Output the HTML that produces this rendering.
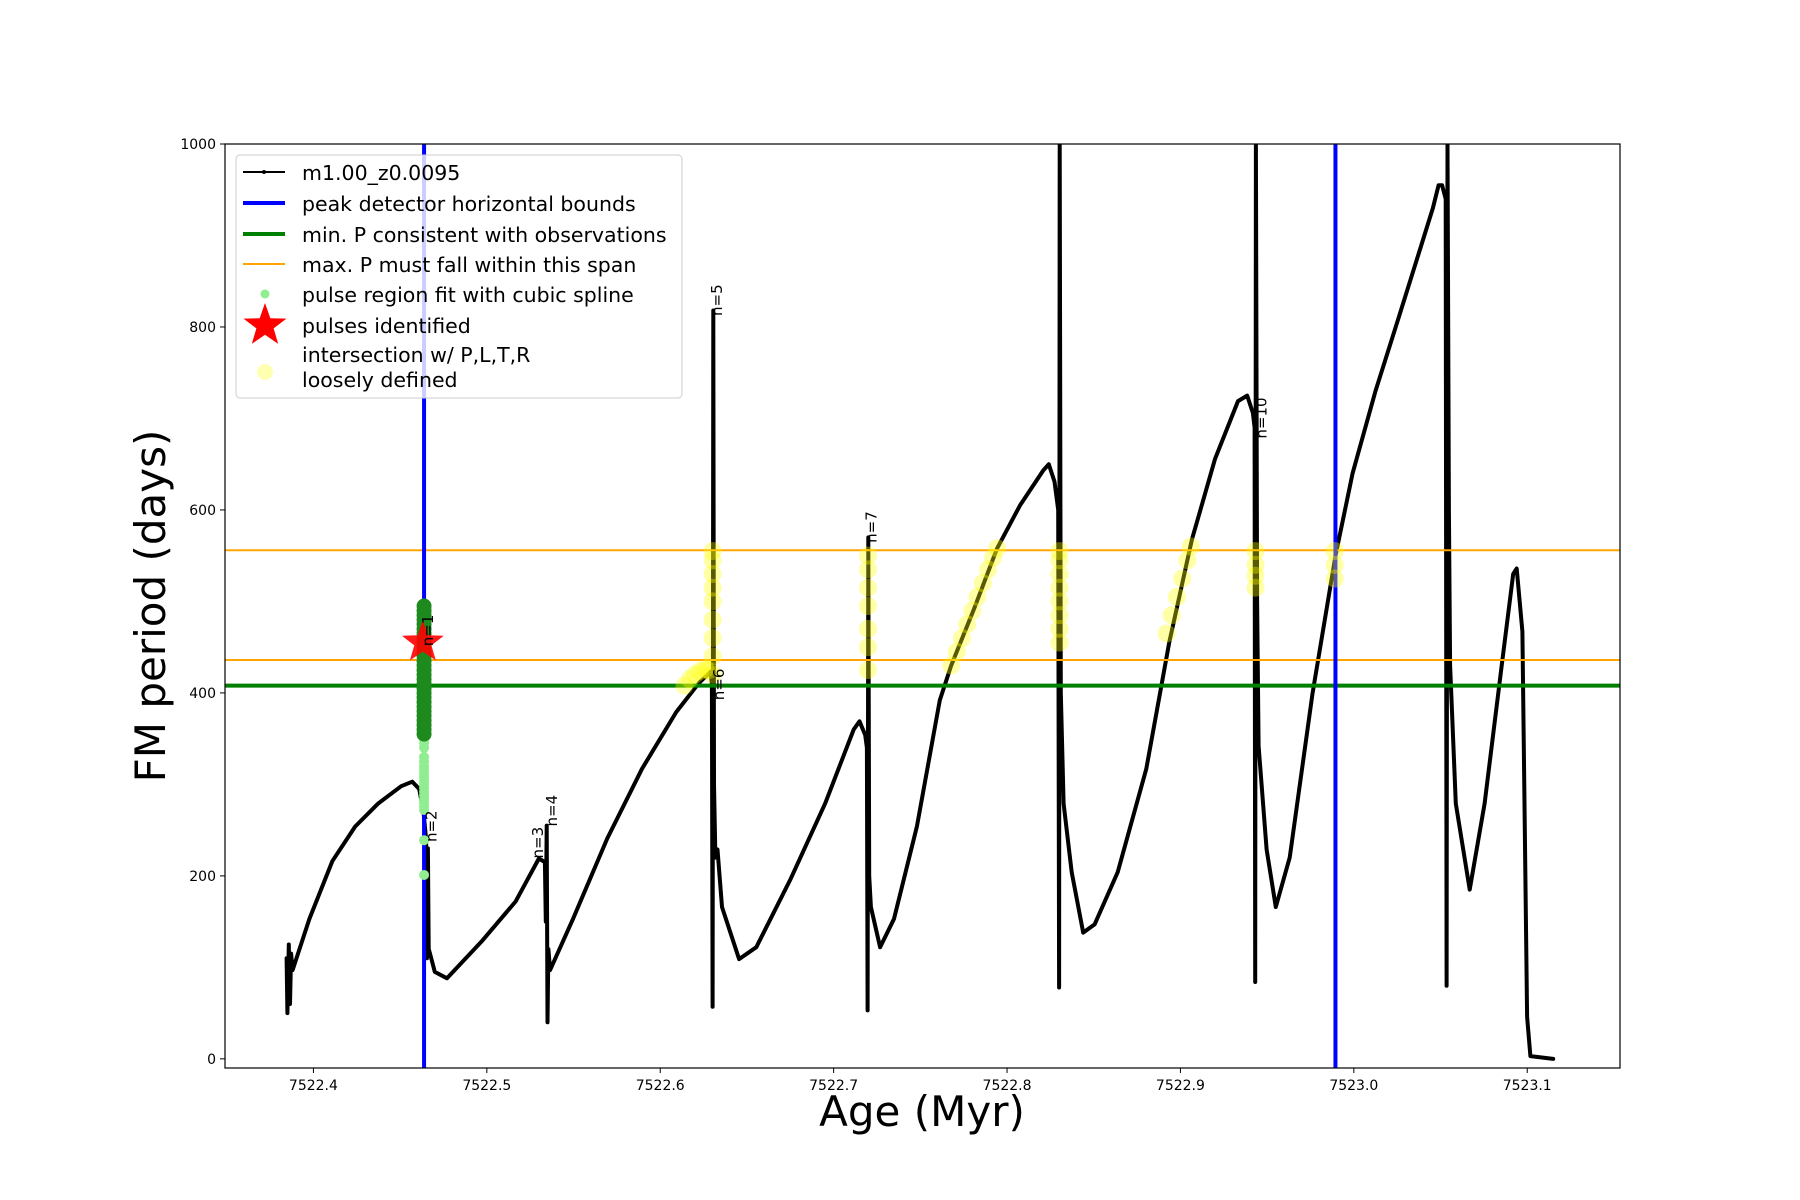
<!DOCTYPE html>
<html><head><meta charset="utf-8"><title>FM period vs Age</title>
<style>
body{margin:0;background:#fff;}
svg{display:block;font-family:"DejaVu Sans","Liberation Sans",sans-serif;}
</style></head>
<body>
<svg id="chart" width="1800" height="1200" viewBox="0 0 1800 1200" xmlns="http://www.w3.org/2000/svg">
<rect width="1800" height="1200" fill="#fff"/>
<g id="plot"></g>
</svg>
<script>
const curveAges=[7522.3845,7522.3850,7522.3858,7522.3865,7522.3871,7522.3880,7522.3977,7522.4109,7522.4241,7522.4373,7522.4506,7522.4570,7522.4610,7522.4635,7522.4650,7522.4655,7522.4660,7522.4665,7522.4672,7522.4700,7522.4770,7522.4968,7522.5166,7522.5300,7522.5335,7522.5340,7522.5345,7522.5350,7522.5355,7522.5365,7522.5497,7522.5695,7522.5895,7522.6092,7522.6224,7522.6290,7522.6298,7522.6302,7522.6306,7522.6310,7522.6318,7522.6330,7522.6356,7522.6455,7522.6554,7522.6753,7522.6951,7522.7116,7522.7149,7522.7182,7522.7192,7522.7196,7522.7200,7522.7205,7522.7215,7522.7268,7522.7348,7522.7480,7522.7612,7522.7678,7522.7810,7522.7943,7522.8075,7522.8208,7522.8241,7522.8274,7522.8295,7522.8300,7522.8304,7522.8310,7522.8326,7522.8373,7522.8439,7522.8505,7522.8638,7522.8803,7522.8935,7522.9067,7522.9200,7522.9332,7522.9385,7522.9418,7522.9428,7522.9431,7522.9435,7522.9442,7522.9451,7522.9497,7522.9550,7522.9630,7522.9762,7522.9894,7522.9993,7523.0125,7523.0258,7523.0390,7523.0456,7523.0489,7523.0509,7523.0530,7523.0535,7523.0540,7523.0548,7523.0555,7523.0588,7523.0668,7523.0754,7523.0853,7523.0919,7523.0939,7523.0972,7523.0999,7523.1018,7523.1150];
const curvePeriods=[110,50,125,60,115,97,153,216,254,279,298,303,295,270,240,110,230,120,115,95,88,128,172,219,215,150,255,40,120,97,153,241,317,379,411,423,410,57,818,300,220,229,166,109,122,197,279,360,369,354,340,53,570,200,166,122,153,254,392,430,492,558,605,643,650,631,600,78,1000,400,279,204,138,147,204,317,455,568,656,719,725,706,690,84,1000,500,342,229,166,220,400,550,640,730,810,890,930,955,955,940,80,1000,600,430,279,185,279,430,530,536,467,46,3,0];
const splineAges=[7522.4638,7522.4638,7522.4638,7522.4638,7522.4638,7522.4638,7522.4638,7522.4638,7522.4638,7522.4638,7522.4638,7522.4638,7522.4638,7522.4638,7522.4638,7522.4638,7522.4638,7522.4638,7522.4638,7522.4638];
const splinePeriods=[201,239,272,276,280,284,288,292,296,300,304,308,312,316,320,325,330,340,345,350];
const greenAges=[7522.4638,7522.4638,7522.4638,7522.4638,7522.4638,7522.4638,7522.4638,7522.4638,7522.4638,7522.4638,7522.4638,7522.4638,7522.4638,7522.4638,7522.4638,7522.4638,7522.4638,7522.4638,7522.4638,7522.4638,7522.4638,7522.4638,7522.4638,7522.4638,7522.4638,7522.4638,7522.4638,7522.4638,7522.4638];
const greenPeriods=[355,360,365,370,375,380,385,390,395,400,405,410,415,420,425,430,435,440,445,450,455,460,465,470,475,480,485,490,495];
const yellowAges=[7522.614,7522.617,7522.620,7522.623,7522.626,7522.628,7522.6302,7522.6302,7522.6302,7522.6302,7522.6302,7522.6302,7522.6302,7522.6302,7522.6302,7522.7198,7522.7198,7522.7198,7522.7198,7522.7198,7522.7198,7522.7198,7522.7678,7522.771,7522.774,7522.777,7522.780,7522.783,7522.786,7522.789,7522.792,7522.7943,7522.8302,7522.8302,7522.8302,7522.8302,7522.8302,7522.8302,7522.8302,7522.8302,7522.892,7522.895,7522.898,7522.901,7522.904,7522.906,7522.9433,7522.9433,7522.9433,7522.9433,7522.989,7522.989,7522.989];
const yellowPeriods=[408,415,420,424,426,425,420,440,460,480,500,515,530,545,555,425,450,470,495,515,535,550,430,445,460,475,490,505,520,535,548,558,455,470,485,500,515,530,545,555,465,485,505,525,545,560,515,528,540,555,525,540,555];
const starAges=[7522.4631];
const starPeriods=[455];
const labelTexts=["n=1","n=2","n=3","n=4","n=5","n=6","n=7","n=10"];
const labelAges=[7522.4691,7522.4711,7522.5325,7522.5404,7522.6356,7522.6369,7522.7248,7522.9497];
const labelPeriods=[451,237,219,254,812,392,564,678];
const xTicks=[7522.4,7522.5,7522.6,7522.7,7522.8,7522.9,7523.0,7523.1];
const xTickLabels=["7522.4","7522.5","7522.6","7522.7","7522.8","7522.9","7523.0","7523.1"];
const yTicks=[0,200,400,600,800,1000];
const yTickLabels=["0","200","400","600","800","1000"];
const blueBounds=[7522.4638,7522.9894];
const minP=[408];
const maxPSpan=[436,556];

const L=225,R=1620,T=144,B=1068;
const X0=7522.349,X1=7523.1535,Y0=-10,Y1=1000;
function sx(v){return L+(v-X0)/(X1-X0)*(R-L);}
function sy(v){return B-(v-Y0)/(Y1-Y0)*(B-T);}
const NS="http://www.w3.org/2000/svg";
const g=document.getElementById('plot');
function mk(tag,attrs,parent){const e=document.createElementNS(NS,tag);for(const k in attrs)e.setAttribute(k,attrs[k]);(parent||g).appendChild(e);return e;}

const defs=mk('defs',{});
const cp=mk('clipPath',{id:'clip'},defs);
mk('rect',{x:L,y:T,width:R-L,height:B-T},cp);
const inner=mk('g',{'clip-path':'url(#clip)'});

let d='';
for(let i=0;i<curveAges.length;i++){d+=(i?'L':'M')+sx(curveAges[i]).toFixed(1)+' '+sy(curvePeriods[i]).toFixed(1);}
const curve=mk('path',{d:d,fill:'none',stroke:'#000','stroke-width':4,'stroke-linejoin':'round','stroke-linecap':'round'},inner);



maxPSpan.forEach(function(p){
 const l=mk('line',{x1:L,x2:R,y1:sy(p),y2:sy(p),stroke:'#ffa500','stroke-width':2},inner);
 
 
});
minP.forEach(function(p){
 const l=mk('line',{x1:L,x2:R,y1:sy(p),y2:sy(p),stroke:'#008000','stroke-width':4},inner);
 
 
});
blueBounds.forEach(function(a){
 const l=mk('line',{x1:sx(a),x2:sx(a),y1:T,y2:B,stroke:'#0000ff','stroke-width':4},inner);
 
 
});
for(let i=0;i<splineAges.length;i++){
 const c=mk('circle',{cx:sx(splineAges[i]),cy:sy(splinePeriods[i]),r:5,fill:'#90ee90'},inner);
 
 
}
for(let i=0;i<greenAges.length;i++){
 const c=mk('circle',{cx:sx(greenAges[i]),cy:sy(greenPeriods[i]),r:7.5,fill:'#1e8a1e'},inner);
 
 
}
function starPath(cx,cy,ro,ri){let p='';for(let k=0;k<10;k++){const r=k%2?ri:ro;const a=-Math.PI/2+k*Math.PI/5;p+=(k?'L':'M')+(cx+r*Math.cos(a)).toFixed(1)+' '+(cy+r*Math.sin(a)).toFixed(1);}return p+'Z';}
for(let i=0;i<starAges.length;i++){
 const s=mk('path',{d:starPath(sx(starAges[i]),sy(starPeriods[i]),22,9),fill:'#ff0000','fill-opacity':0.9},inner);
 
 
}
for(let i=0;i<yellowAges.length;i++){
 const c=mk('circle',{cx:sx(yellowAges[i]),cy:sy(yellowPeriods[i]),r:9,fill:'#ffff00','fill-opacity':0.35},inner);
 
 
}
for(let i=0;i<labelTexts.length;i++){
 const x=sx(labelAges[i]),y=sy(labelPeriods[i]);
 const t=mk('text',{x:x,y:y,transform:'rotate(-90 '+x+' '+y+')','font-size':15,fill:'#000'});
 t.textContent=labelTexts[i];
 
 
}

const fr=mk('rect',{x:L,y:T,width:R-L,height:B-T,fill:'none',stroke:'#000','stroke-width':1.2});


for(let i=0;i<xTicks.length;i++){
 const x=sx(xTicks[i]);
 mk('line',{x1:x,x2:x,y1:B,y2:B+5,stroke:'#000','stroke-width':1});
 const t=mk('text',{x:x,y:B+22,'text-anchor':'middle','font-size':14,fill:'#000'});
 t.textContent=xTickLabels[i];
 
 
}
for(let i=0;i<yTicks.length;i++){
 const y=sy(yTicks[i]);
 mk('line',{x1:L-5,x2:L,y1:y,y2:y,stroke:'#000','stroke-width':1});
 const t=mk('text',{x:L-9,y:y+5,'text-anchor':'end','font-size':14,fill:'#000'});
 t.textContent=yTickLabels[i];
 
 
}
</script>
<svg style="position:absolute;left:0;top:0" width="1800" height="1200">
<text x="922" y="1126" text-anchor="middle" font-size="42" font-family="DejaVu Sans, Liberation Sans, sans-serif">Age (Myr)</text>
<text x="165" y="606" text-anchor="middle" font-size="42" font-family="DejaVu Sans, Liberation Sans, sans-serif" transform="rotate(-90 165 606)">FM period (days)</text>
<g font-family="DejaVu Sans, Liberation Sans, sans-serif" font-size="20.5">
<rect x="236" y="155" width="446" height="243" rx="4" fill="#fff" fill-opacity="0.8" stroke="#ccc" stroke-width="1"/>
<line x1="243" y1="172" x2="285" y2="172" stroke="#000" stroke-width="2"/><circle cx="264" cy="172" r="2" fill="#000"/>
<text x="302" y="180">m1.00_z0.0095</text>
<line x1="243" y1="203" x2="285" y2="203" stroke="#0000ff" stroke-width="4"/>
<text x="302" y="211">peak detector horizontal bounds</text>
<line x1="243" y1="234" x2="285" y2="234" stroke="#008000" stroke-width="4"/>
<text x="302" y="242">min. P consistent with observations</text>
<line x1="243" y1="264" x2="285" y2="264" stroke="#ffa500" stroke-width="2"/>
<text x="302" y="272">max. P must fall within this span</text>
<circle cx="265" cy="294" r="4.5" fill="#90ee90"/>
<text x="302" y="302">pulse region fit with cubic spline</text>
<path d="M265 303 L270.3 318.3 L286.5 318.6 L273.6 328.4 L278.2 343.9 L265 334.7 L251.8 343.9 L256.4 328.4 L243.5 318.6 L259.7 318.3Z" fill="#ff0000"/>
<text x="302" y="333">pulses identified</text>
<circle cx="265" cy="372" r="8" fill="#ffff00" fill-opacity="0.3"/>
<text x="302" y="362">intersection w/ P,L,T,R</text>
<text x="302" y="387">loosely defined</text>
</g>
</svg>
</body></html>
